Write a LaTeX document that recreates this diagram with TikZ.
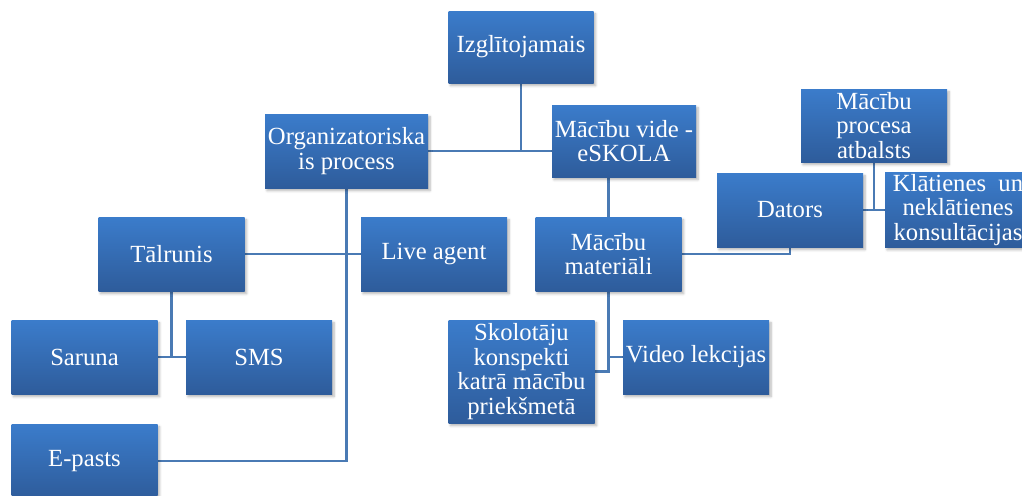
\documentclass[tikz,border=0pt]{standalone}
\usepackage{fontspec}
\setmainfont{Liberation Serif}
\usepackage{xcolor}
\definecolor{xtop}{HTML}{3B7CCB}
\definecolor{xbot}{HTML}{2E5C9B}
\definecolor{xlink}{HTML}{4A7AB4}
\usetikzlibrary{shadows.blur, backgrounds}
\tikzset{
  %% Styles %%
  box/.style = {
    rectangle, top color=xtop, bottom color=xbot, draw=none,
    text=white, align=center, inner sep=1pt,
    font=\fontsize{18.5}{18.5}\selectfont,
    minimum width=146*0.75pt, minimum height=74*0.75pt,
    blur shadow={shadow xshift=1.5pt, shadow yshift=-2pt, shadow blur steps=5, shadow opacity=30},
  },
  link/.style = {draw=xlink, line width=1.8pt},
}
\begin{document}
\begin{tikzpicture}[x=0.75pt, y=-0.75pt]
  \useasboundingbox (0,0) rectangle (1022,496);
  \clip (0,0) rectangle (1022,496);

  % top level
  \node[box, minimum width=145*0.75pt, minimum height=72*0.75pt] (izgl) at (521,47) {Izglītojamais};
  \node[box, minimum width=163*0.75pt] (org) at (346.5,151) {Organizatoriska\\is process};
  \node[box, minimum width=144*0.75pt, minimum height=72*0.75pt] (vide) at (624,141) {Mācību vide -\\eSKOLA};
  \node[box, minimum height=73*0.75pt] (atb) at (874,125.5) {Mācību\\procesa\\atbalsts};

  % middle level
  \node[box] (talr) at (171.5,254) {Tālrunis};
  \node[box] (live) at (434,254) {Live agent};
  \node[box] (mat) at (608.5,254) {Mācību\\materiāli};
  \node[box] (dators) at (790,210) {Dators};
  \node[box] (klat) at (958,210) {Klātienes\enspace un\\neklātienes\\konsultācijas};

  % bottom level
  \node[box] (saruna) at (84.5,357) {Saruna};
  \node[box] (sms) at (259,357) {SMS};
  \node[box, minimum height=103*0.75pt] (skol) at (521.5,371.5) {Skolotāju\\konspekti\\katrā mācību\\priekšmetā};
  \node[box] (video) at (696,357) {Video lekcijas};
  \node[box] (epasts) at (84.5,461) {E-pasts};

  % connectors
  \begin{scope}[on background layer]
    \draw[link] (izgl.south) -- (izgl.south |- org.east);
    \draw[link] (org.east) -- (org.east -| vide.west);
    \draw[link] (org.south) |- (epasts.east);
    \draw[link] (talr.east) -- (live.west);
    \draw[link] (talr.south) |- (saruna.east);
    \draw[link] (saruna.east) -- (sms.west);
    \draw[link] (mat.north) -- (mat.north |- vide.south);
    \draw[link] (mat.east) -| (dators.south);
    \draw[link] (atb.south) |- (dators.east);
    \draw[link] (dators.east) -- (klat.west);
    \draw[link] (mat.south) |- (skol.east);
    \draw[link] (mat.south) |- (video.west);
  \end{scope}
\end{tikzpicture}
\end{document}
